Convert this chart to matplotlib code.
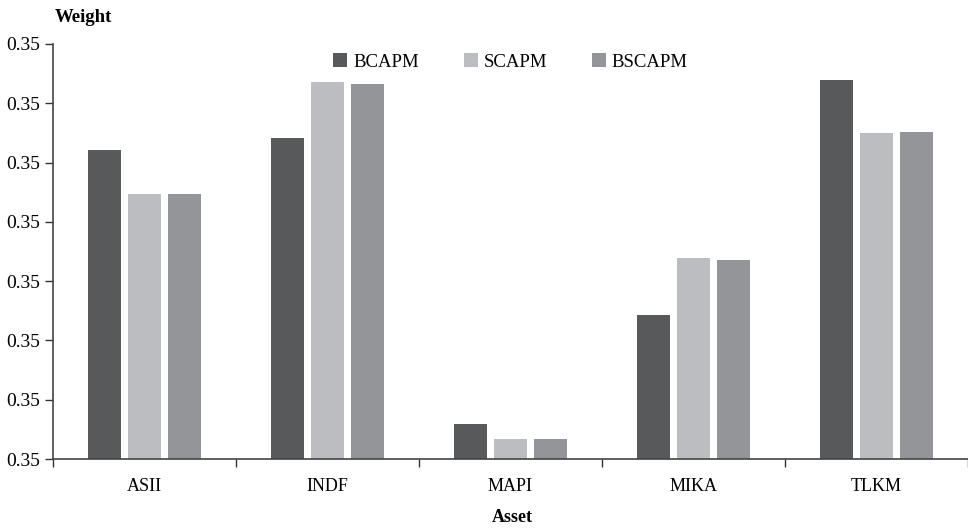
import numpy as np
import matplotlib
matplotlib.use("Agg")
import matplotlib.pyplot as plt

# data (weights)
assets = ["ASII", "INDF", "MAPI", "MIKA", "TLKM"]
bcapm = [0.2605, 0.2705, 0.0295, 0.1215, 0.3195]
scapm = [0.2235, 0.318, 0.017, 0.1695, 0.275]
bscapm = [0.2235, 0.316, 0.017, 0.168, 0.2755]
series_names = ["BCAPM", "SCAPM", "BSCAPM"]
colors = ["#58595b", "#bcbdc0", "#939598"]

plt.rcParams['font.family'] = ['Liberation Serif', 'DejaVu Serif']

fig = plt.figure(figsize=(9.68, 5.31), dpi=100)
ax = fig.add_axes([53/968, 1-459/531, 1-53/968, (459-44)/531])

x = np.arange(len(assets))
w = 0.18
off = 0.221
for i, (vals, name, c) in enumerate(zip([bcapm, scapm, bscapm], series_names, colors)):
    ax.bar(x + (i-1)*off, vals, width=w, color=c, label=name, zorder=2)

ax.set_xlim(-0.5, 4.5)
ax.set_ylim(0, 0.35)
yt = np.arange(0, 0.351, 0.05)
ax.set_yticks(yt)
ax.set_yticklabels(["0.35"]*len(yt), fontsize=14)
ax.set_xticks(x)
ax.set_xticklabels(assets, fontsize=13)
ax.set_xticks(np.arange(-0.5, 4.6, 1), minor=True)
ax.tick_params(axis='x', which='major', length=0, pad=14)
ax.tick_params(axis='x', which='minor', length=6, width=1, color='#333333', direction='out')
ax.tick_params(axis='y', length=6, width=1, color='#333333', pad=3)
for s in ['top', 'right']:
    ax.spines[s].set_visible(False)
for s in ['left', 'bottom']:
    ax.spines[s].set_color('#444444')
    ax.spines[s].set_linewidth(1.2)

fig.text(55/968, 1-18/531, "Weight", fontsize=13.5, fontweight='bold', va='center', ha='left')
fig.text(512/968, 1-518/531, "Asset", fontsize=13, fontweight='bold', va='center', ha='center')

leg = ax.legend(loc='upper center', bbox_to_anchor=(0.5, 1.018), ncol=3, frameon=False,
                fontsize=13.5, handlelength=0.75, handleheight=0.75, columnspacing=2.4,
                handletextpad=0.3)

fig.savefig("out.png", dpi=100)
